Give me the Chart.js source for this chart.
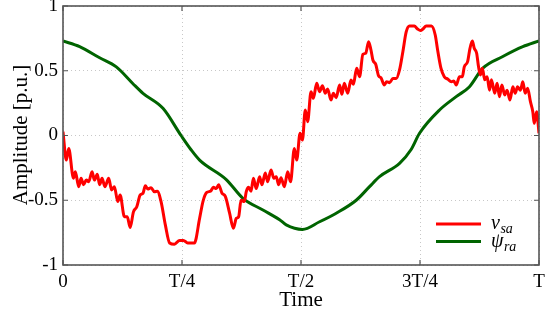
<!DOCTYPE html>
<html>
<head>
<meta charset="utf-8">
<script src="https://cdn.jsdelivr.net/npm/chart.js@4.4.0/dist/chart.umd.min.js"></script>
<style>
html,body{margin:0;padding:0;background:#fff;}
#wrap{width:545px;height:320px;position:relative;}
</style>
</head>
<body>
<div id="wrap"><canvas id="c" width="545" height="320"></canvas></div>
<script>
// ---- data (time in units of T) ----
const xTickVals = [0, 0.25, 0.5, 0.75, 1];
const xTickLabels = ['0', 'T/4', 'T/2', '3T/4', 'T'];
const yTickVals = [-1, -0.5, 0, 0.5, 1];
const yTickLabels = ['-1', '-0.5', '0', '0.5', '1'];

const psiT = [0, 0.035, 0.077, 0.112, 0.147, 0.168, 0.21, 0.248, 0.269, 0.287, 0.343, 0.378, 0.42, 0.455, 0.469, 0.503, 0.539, 0.574, 0.616, 0.644, 0.665, 0.707, 0.731, 0.749, 0.791, 0.826, 0.854, 0.882, 0.924, 0.966, 1.0];
const psiV = [0.73, 0.686, 0.60, 0.53, 0.40, 0.326, 0.21, 0.0, -0.11, -0.19, -0.34, -0.485, -0.575, -0.65, -0.69, -0.725, -0.666, -0.60, -0.50, -0.395, -0.318, -0.215, -0.11, 0.017, 0.197, 0.30, 0.377, 0.52, 0.61, 0.686, 0.73];

const vsaT = [0.0, 0.007, 0.012, 0.022, 0.026, 0.033, 0.038, 0.043, 0.049, 0.054, 0.061, 0.066, 0.072, 0.077, 0.082, 0.088, 0.096, 0.102, 0.108, 0.115, 0.120, 0.129, 0.135, 0.141, 0.148, 0.155, 0.162, 0.168, 0.173, 0.178, 0.185, 0.192, 0.198, 0.206, 0.215, 0.224, 0.234, 0.245, 0.253, 0.262, 0.276, 0.287, 0.294, 0.302, 0.31, 0.316, 0.322, 0.327, 0.334, 0.341, 0.350, 0.358, 0.364, 0.369, 0.374, 0.381, 0.385, 0.39, 0.395, 0.40, 0.406, 0.413, 0.418, 0.425, 0.43, 0.437, 0.443, 0.448, 0.453, 0.458, 0.465, 0.472, 0.478, 0.486, 0.491, 0.498, 0.503, 0.509, 0.514, 0.521, 0.526, 0.533, 0.539, 0.545, 0.551, 0.556, 0.563, 0.568, 0.574, 0.581, 0.586, 0.591, 0.598, 0.605, 0.61, 0.617, 0.623, 0.63, 0.636, 0.642, 0.647, 0.651, 0.657, 0.663, 0.668, 0.675, 0.68, 0.686, 0.693, 0.70, 0.707, 0.714, 0.721, 0.728, 0.738, 0.745, 0.751, 0.756, 0.763, 0.774, 0.782, 0.787, 0.794, 0.801, 0.808, 0.816, 0.821, 0.826, 0.833, 0.839, 0.843, 0.85, 0.855, 0.86, 0.864, 0.869, 0.873, 0.877, 0.881, 0.886, 0.891, 0.896, 0.90, 0.907, 0.912, 0.917, 0.922, 0.928, 0.933, 0.939, 0.945, 0.95, 0.955, 0.961, 0.966, 0.971, 0.976, 0.982, 0.987, 0.99, 0.995, 1.0];
const vsaV = [0.03, -0.19, -0.10, -0.33, -0.28, -0.395, -0.33, -0.38, -0.344, -0.357, -0.28, -0.344, -0.30, -0.38, -0.33, -0.395, -0.33, -0.42, -0.395, -0.51, -0.46, -0.627, -0.627, -0.71, -0.59, -0.55, -0.46, -0.446, -0.388, -0.413, -0.403, -0.434, -0.43, -0.51, -0.69, -0.83, -0.84, -0.81, -0.81, -0.83, -0.83, -0.64, -0.51, -0.44, -0.43, -0.40, -0.41, -0.38, -0.446, -0.47, -0.60, -0.717, -0.64, -0.627, -0.50, -0.51, -0.434, -0.40, -0.43, -0.33, -0.41, -0.318, -0.38, -0.29, -0.357, -0.266, -0.33, -0.318, -0.38, -0.326, -0.395, -0.28, -0.357, -0.10, -0.19, 0.017, -0.035, 0.197, 0.107, 0.338, 0.287, 0.403, 0.338, 0.385, 0.326, 0.36, 0.274, 0.326, 0.292, 0.39, 0.318, 0.403, 0.326, 0.428, 0.395, 0.52, 0.454, 0.627, 0.635, 0.724, 0.66, 0.583, 0.55, 0.46, 0.446, 0.39, 0.415, 0.408, 0.44, 0.44, 0.506, 0.647, 0.80, 0.845, 0.845, 0.822, 0.81, 0.822, 0.845, 0.845, 0.776, 0.66, 0.52, 0.454, 0.436, 0.415, 0.42, 0.39, 0.454, 0.454, 0.53, 0.57, 0.673, 0.73, 0.673, 0.635, 0.53, 0.467, 0.52, 0.43, 0.454, 0.35, 0.43, 0.326, 0.403, 0.30, 0.39, 0.313, 0.35, 0.274, 0.377, 0.326, 0.377, 0.35, 0.415, 0.326, 0.364, 0.261, 0.184, 0.094, 0.184, 0.017];

const seriesNames = ['v', 'ψ'];
const seriesSubs = ['sa', 'ra'];
const seriesColors = ['#ff0000', '#006400'];

const SERIF = '"Liberation Serif", "DejaVu Serif", serif';

const framePlugin = {
  id: 'frame',
  afterDraw(chart) {
    const ctx = chart.ctx;
    const a = chart.chartArea;
    const xs = chart.scales.x, ys = chart.scales.y;
    ctx.save();
    // frame
    ctx.strokeStyle = '#555';
    ctx.lineWidth = 1.6;
    ctx.strokeRect(a.left, a.top, a.right - a.left, a.bottom - a.top);
    // inward ticks
    ctx.lineWidth = 1.2;
    ctx.beginPath();
    xTickVals.forEach(v => {
      const px = xs.getPixelForValue(v);
      ctx.moveTo(px, a.bottom); ctx.lineTo(px, a.bottom - 5);
      ctx.moveTo(px, a.top); ctx.lineTo(px, a.top + 5);
    });
    yTickVals.forEach(v => {
      const py = ys.getPixelForValue(v);
      ctx.moveTo(a.left, py); ctx.lineTo(a.left + 5, py);
      ctx.moveTo(a.right, py); ctx.lineTo(a.right - 5, py);
    });
    ctx.stroke();
    // axis titles
    ctx.fillStyle = '#000';
    ctx.font = '21px ' + SERIF;
    ctx.textAlign = 'center';
    ctx.textBaseline = 'middle';
    ctx.fillText('Time', (a.left + a.right) / 2, 300);
    ctx.translate(21, 135);
    ctx.rotate(-Math.PI / 2);
    ctx.fillText('Amplitude [p.u.]', 0, 0);
    ctx.setTransform(1, 0, 0, 1, 0, 0);
    // legend
    const rows = [224, 241.5];
    rows.forEach((ry, i) => {
      ctx.strokeStyle = seriesColors[i];
      ctx.lineWidth = 3;
      ctx.beginPath();
      ctx.moveTo(436, ry); ctx.lineTo(481, ry);
      ctx.stroke();
      ctx.fillStyle = '#000';
      ctx.textAlign = 'left';
      ctx.textBaseline = 'alphabetic';
      ctx.font = 'italic 20px ' + SERIF;
      ctx.fillText(seriesNames[i], 491, ry + 5);
      const w = ctx.measureText(seriesNames[i]).width;
      ctx.font = 'italic 14px ' + SERIF;
      ctx.fillText(seriesSubs[i], 491 + w + 0.5, ry + 9);
    });
    ctx.restore();
  }
};

new Chart(document.getElementById('c'), {
  type: 'line',
  data: {
    datasets: [
      {
        label: 'v_sa',
        data: vsaT.map((t, i) => ({ x: t, y: vsaV[i] })),
        borderColor: seriesColors[0],
        borderWidth: 3,
        pointRadius: 0,
        cubicInterpolationMode: 'monotone',
        fill: false
      },
      {
        label: 'psi_ra',
        data: psiT.map((t, i) => ({ x: t, y: psiV[i] })),
        borderColor: seriesColors[1],
        borderWidth: 3,
        pointRadius: 0,
        cubicInterpolationMode: 'monotone',
        fill: false
      }
    ]
  },
  options: {
    responsive: false,
    animation: false,
    devicePixelRatio: 1,
    layout: { padding: { left: 0, right: 6, top: 6, bottom: 0 } },
    plugins: { legend: { display: false }, tooltip: { enabled: false } },
    scales: {
      x: {
        type: 'linear',
        min: 0, max: 1,
        afterFit(s) { s.height = 55; s.paddingLeft = 0; s.paddingRight = 0; },
        afterBuildTicks(s) { s.ticks = xTickVals.map(v => ({ value: v })); },
        ticks: {
          callback: (v) => xTickLabels[xTickVals.indexOf(v)],
          font: { family: SERIF, size: 19 },
          color: '#000',
          padding: 6,
          maxRotation: 0,
          autoSkip: false
        },
        grid: { color: '#c8c8c8', drawTicks: false, lineWidth: 1 },
        border: { display: false, dash: [1, 3] }
      },
      y: {
        type: 'linear',
        min: -1, max: 1,
        afterFit(s) { s.width = 63; s.paddingTop = 0; s.paddingBottom = 0; },
        afterBuildTicks(s) { s.ticks = yTickVals.map(v => ({ value: v })); },
        ticks: {
          callback: (v) => yTickLabels[yTickVals.indexOf(v)],
          font: { family: SERIF, size: 19 },
          color: '#000',
          padding: 5,
          autoSkip: false
        },
        grid: { color: '#c8c8c8', drawTicks: false, lineWidth: 1 },
        border: { display: false, dash: [1, 3] }
      }
    }
  },
  plugins: [framePlugin]
});
</script>
</body>
</html>
